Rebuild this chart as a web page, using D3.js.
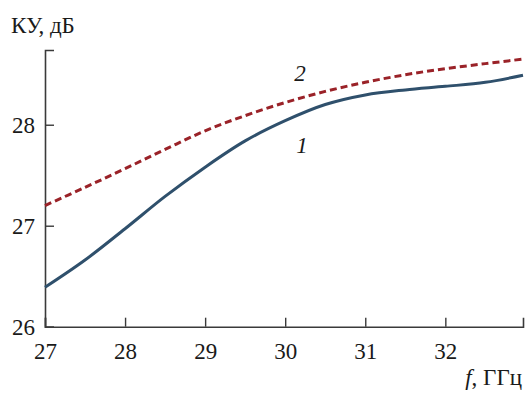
<!DOCTYPE html>
<html><head><meta charset="utf-8">
<script src="https://cdn.jsdelivr.net/npm/d3@7"></script>
<style>body{margin:0;background:#fff}svg{display:block}</style>
</head><body>
<svg id="c" width="527" height="393"></svg>
<script>
const freq = [27, 27.5, 28, 28.5, 29, 29.5, 30, 30.5, 31, 31.5, 32, 32.5, 32.97];
const gain1 = [26.39, 26.66, 26.97, 27.29, 27.58, 27.84, 28.04, 28.20, 28.295, 28.345, 28.38, 28.42, 28.49];
const gain2 = [27.20, 27.38, 27.565, 27.755, 27.94, 28.09, 28.22, 28.33, 28.42, 28.495, 28.555, 28.605, 28.65];
const xTicks = [27, 28, 29, 30, 31, 32];
const yTicks = [26, 27, 28];

const svg = d3.select("#c");
const x = d3.scaleLinear().domain([27, 32.97]).range([45, 523]);
const y = d3.scaleLinear().domain([26, 28.74]).range([326.7, 50]);
const font = '"Times New Roman", Times, "DejaVu Serif", "Noto Serif", serif';
const axisCol = "#3a3a3a";

const xa = svg.append("g").attr("transform", `translate(0,${y(26)})`)
  .call(d3.axisBottom(x).tickValues(xTicks).tickSize(-9).tickPadding(14).tickFormat(d3.format("d")));
const ya = svg.append("g").attr("transform", `translate(${x(27)},0)`)
  .call(d3.axisLeft(y).tickValues(yTicks).tickSize(-9).tickPadding(10).tickFormat(d3.format("d")));
[xa, ya].forEach(a => {
  a.attr("font-family", null).attr("font-size", null);
  a.select(".domain").attr("stroke", axisCol).attr("stroke-width", 1.6);
  a.selectAll(".tick line").attr("stroke", axisCol).attr("stroke-width", 1.4);
  a.selectAll(".tick text").attr("fill", "#1a1a1a")
    .style("font-family", font).style("font-size", "23px");
});
xa.selectAll(".tick text").attr("dy", "0.71em").attr("y", 16);
ya.selectAll(".tick text").attr("x", -10);

const line = d3.line().x((d, i) => x(freq[i])).y(d => y(d)).curve(d3.curveCatmullRom.alpha(0.5));

svg.append("path").datum(gain2).attr("d", line).attr("fill", "none")
  .attr("stroke", "#9a2228").attr("stroke-width", 3).attr("stroke-dasharray", "7,4");
svg.append("path").datum(gain1).attr("d", line).attr("fill", "none")
  .attr("stroke", "#2f506c").attr("stroke-width", 3);

function txt(xp, yp, s, anchor, italic) {
  return svg.append("text").attr("x", xp).attr("y", yp).attr("text-anchor", anchor)
    .style("font-family", font).style("font-size", "23px").attr("fill", "#1a1a1a")
    .style("font-style", italic ? "italic" : "normal").text(s);
}
txt(11, 33, "КУ, дБ", "start", false);
const ft = svg.append("text").attr("x", 522).attr("y", 385).attr("text-anchor", "end")
  .style("font-family", font).style("font-size", "23px").attr("fill", "#1a1a1a");
ft.append("tspan").style("font-style", "italic").text("f");
ft.append("tspan").text(", ГГц");
txt(300, 80.5, "2", "middle", true);
txt(302, 153, "1", "middle", true);
</script>
</body></html>
